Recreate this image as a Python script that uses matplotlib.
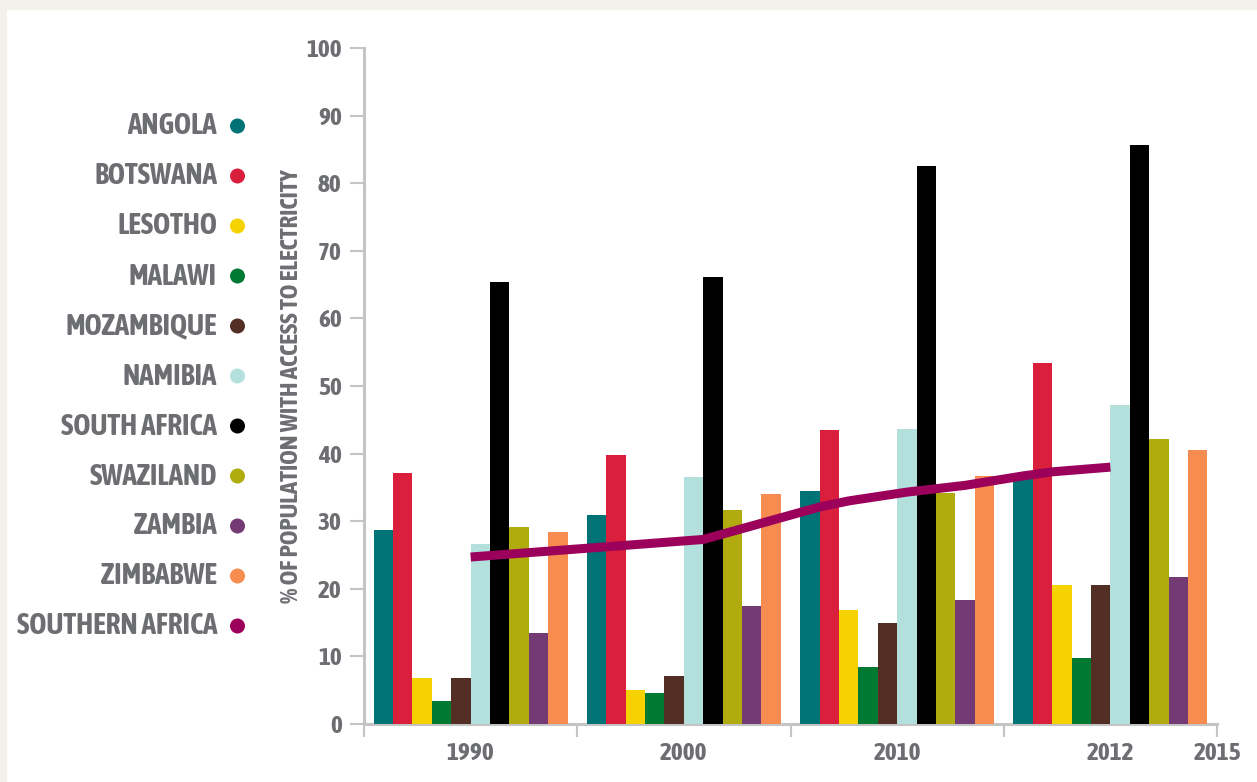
import matplotlib.pyplot as plt
from matplotlib import font_manager
from matplotlib.patches import Circle, Rectangle
import numpy as np

groups = ['1990', '2000', '2010', '2012']
end_label = '2015'

countries = ['ANGOLA', 'BOTSWANA', 'LESOTHO', 'MALAWI', 'MOZAMBIQUE', 'NAMIBIA',
             'SOUTH AFRICA', 'SWAZILAND', 'ZAMBIA', 'ZIMBABWE']
angola = [28.7, 30.9, 34.5, 37.0]
botswana = [37.1, 39.8, 43.5, 53.4]
lesotho = [6.8, 5.0, 16.9, 20.6]
malawi = [3.4, 4.6, 8.4, 9.8]
mozambique = [6.8, 7.1, 15.0, 20.6]
namibia = [26.6, 36.5, 43.6, 47.2]
south_africa = [65.4, 66.1, 82.5, 85.6]
swaziland = [29.1, 31.7, 34.2, 42.2]
zambia = [13.5, 17.5, 18.3, 21.8]
zimbabwe = [28.4, 34.0, 36.7, 40.5]

region_name = 'SOUTHERN AFRICA'
region_years = [1990, 1994, 1998, 2000, 2002, 2003, 2005, 2007, 2009, 2010, 2012]
region_values = [24.7, 26.0, 27.3, 29.7, 32.1, 33.0, 34.3, 35.3, 36.7, 37.3, 38.0]

ylabel = '% OF POPULATION WITH ACCESS TO ELECTRICITY'

colors = ['#007377', '#da1f3d', '#f5d200', '#007a33', '#532e25', '#b3dfdd',
          '#000000', '#b0ac0f', '#733a73', '#f78c50']
region_color = '#9b005b'
text_color = '#6d6e71'
axis_color = '#c4c4c4'

series = [angola, botswana, lesotho, malawi, mozambique, namibia,
          south_africa, swaziland, zambia, zimbabwe]


def pick_narrow_font():
    # look for a narrow / condensed face, bold if possible
    narrow = []
    for f in font_manager.fontManager.ttflist:
        tag = (f.name + ' ' + str(f.stretch)).lower()
        if 'narrow' in tag or 'condensed' in tag:
            narrow.append(f)
    if not narrow:
        return {'family': 'DejaVu Sans', 'weight': 'bold', 'stretch': 'normal'}

    def score(f):
        w = f.weight if isinstance(f.weight, int) else 400
        return (abs(w - 700), 'extra' in str(f.stretch).lower(), f.name)
    best = sorted(narrow, key=score)[0]
    return {'family': best.name, 'weight': best.weight, 'stretch': best.stretch}


font = pick_narrow_font()
plt.rcParams['font.family'] = [font['family'], 'DejaVu Sans']
plt.rcParams['font.weight'] = font['weight']
plt.rcParams['font.stretch'] = font['stretch']
plt.rcParams['axes.labelweight'] = font['weight']

W, H = 1257, 782
fig = plt.figure(figsize=(W / 100, H / 100), dpi=100)
fig.patch.set_facecolor('#f2f2ea')
fig.add_artist(Rectangle((7 / W, 0), (W - 7) / W, (H - 10) / H,
                         transform=fig.transFigure, facecolor='white',
                         edgecolor='none', zorder=-10))

# size the texts by width so the narrow face fills the same room
renderer = fig.canvas.get_renderer()


def fit_size(text, width_px, max_pt):
    t = fig.text(0, 0, text, fontsize=10)
    w = t.get_window_extent(renderer).width
    t.remove()
    return min(max_pt, 10 * width_px / w)


legend_size = fit_size(region_name, 200, 24)
tick_size = fit_size('1990', 47, 22)
label_size = fit_size(ylabel, 435, 21)

ax = fig.add_axes([364 / W, 1 - 724 / H, (1217 - 364) / W, (724 - 48) / H])
ax.set_facecolor('none')

bar_w = 0.091
centers = np.arange(len(groups)) + 0.5
for k, (vals, c) in enumerate(zip(series, colors)):
    ax.bar(centers + (k - 4.5) * bar_w, vals, width=bar_w, color=c,
           linewidth=0, zorder=2)

# regional average drawn across the bar groups, 1990 -> 2012
line_x = 0.5 + (np.array(region_years) - 1990) * 3 / 22
ax.plot(line_x, region_values, color=region_color, lw=6.5,
        solid_capstyle='butt', solid_joinstyle='round', zorder=3)

ax.set_xlim(0, 4)
ax.set_ylim(0, 100)
ax.set_yticks(range(0, 101, 10))
ax.set_xticks(range(5))
ax.set_xticklabels(['', '', '', '', end_label])
ax.set_xticks(centers, minor=True)
ax.set_xticklabels(groups, minor=True)

for s in ['top', 'right']:
    ax.spines[s].set_visible(False)
for s in ['left', 'bottom']:
    ax.spines[s].set_color(axis_color)
    ax.spines[s].set_linewidth(2.2)
    ax.spines[s].set_zorder(1)

ax.tick_params(axis='y', length=10, width=1.5, color=axis_color, pad=6,
               labelsize=tick_size, labelcolor=text_color)
ax.tick_params(axis='x', which='major', length=9, width=1.5, color=axis_color,
               pad=4, labelsize=tick_size, labelcolor=text_color)
ax.tick_params(axis='x', which='minor', length=0, pad=13,
               labelsize=tick_size, labelcolor=text_color)

ax.set_ylabel(ylabel, fontsize=label_size, color=text_color, labelpad=2)

# legend: right-aligned names with a dot after each
names = countries + [region_name]
dots = colors + [region_color]
for i, (name, c) in enumerate(zip(names, dots)):
    y = 126 + i * 50
    fig.text(217 / W, 1 - y / H, name, ha='right', va='center',
             fontsize=legend_size, color=text_color)
    fig.add_artist(Circle((237.5 / 100, (H - y) / 100), 0.075,
                          transform=fig.dpi_scale_trans, facecolor=c,
                          edgecolor='none'))

fig.savefig('out.png', dpi=100)
